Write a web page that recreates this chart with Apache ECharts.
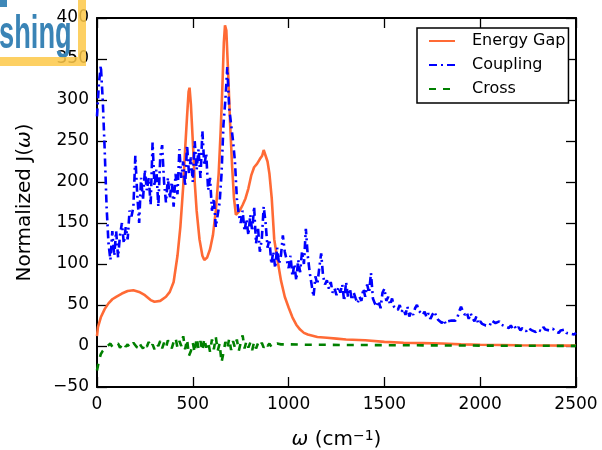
<!DOCTYPE html>
<html>
<head>
<meta charset="utf-8">
<script src="https://cdn.jsdelivr.net/npm/echarts@6/dist/echarts.min.js"></script>
<style>html,body{margin:0;padding:0;background:#fff}#c{width:602px;height:450px}</style>
</head>
<body>
<div id="c"></div>
<script>
// ---- data ----
const xTicks = [0, 500, 1000, 1500, 2000, 2500];
const yTicks = [-50, 0, 50, 100, 150, 200, 250, 300, 350, 400];
const seriesNames = ['Energy Gap', 'Coupling', 'Cross'];

const gapOmega = [0, 5, 20, 40, 60, 80, 100, 130, 160, 190, 220, 250, 280, 300, 330, 360, 380, 400, 420, 435, 450, 460, 470, 478, 483, 490, 500, 510, 520, 535, 550, 560, 575, 590, 605, 620, 635, 645, 655, 662, 668, 675, 685, 695, 705, 715, 725, 735, 745, 760, 775, 790, 805, 820, 835, 850, 862, 870, 880, 890, 900, 912, 925, 940, 960, 980, 1000, 1020, 1040, 1060, 1080, 1100, 1150, 1200, 1250, 1300, 1400, 1500, 1600, 1700, 1800, 1900, 2000, 2200, 2500];
const gapValues = [12, 23, 35, 45, 52, 57, 60, 64, 67, 68, 66, 62, 56, 54, 55, 60, 66, 78, 110, 145, 195, 240, 280, 310, 315, 295, 250, 200, 165, 130, 110, 105, 108, 118, 135, 165, 210, 260, 320, 370, 391, 385, 330, 270, 220, 180, 160, 158, 165, 172, 180, 192, 208, 218, 222, 228, 232, 239, 232, 225, 210, 180, 130, 108, 80, 60, 47, 35, 26, 20, 16, 14, 11, 10, 9, 8, 7, 5, 4, 3.5, 3, 2, 1.5, 1, 0.5];

// Coupling sampled every 10 cm^-1 from 0 to 2500
const couplingStart = 0, couplingStep = 10;
const couplingValues = [
  280, 320, 342, 300, 240, 170, 125, 105, 140, 110,
  140, 108, 135, 150, 125, 145, 130, 165, 158, 170,
  232, 185, 150, 205, 178, 215, 190, 205, 172, 248,
  195, 215, 170, 230, 245, 200, 175, 205, 180, 200,
  170, 210, 185, 240, 205, 225, 195, 245, 210, 230,
  200, 250, 215, 240, 205, 262, 220, 235, 190, 205,
  165, 180, 145, 160, 175, 210, 270, 300, 340, 290,
  270, 250, 225, 180, 160, 150, 165, 140, 155, 135,
  160, 140, 170, 125, 145, 115, 130, 170, 150, 120,
  130, 100, 115, 95, 120, 100, 110, 135, 115, 105,
  95, 110, 85, 100, 80, 105, 90, 115, 100, 143,
  110, 90, 75, 60, 85, 75, 95, 113, 85, 75,
  80, 70, 78, 65, 70, 62, 72, 65, 75, 55,
  78, 60, 70, 56, 65, 58, 52, 60, 55, 70,
  60, 75, 65, 89, 58, 52, 48, 55, 46, 65,
  70, 55, 60, 50, 58, 48, 50, 44, 50, 42,
  45, 38, 48, 36, 42, 38, 46, 50, 43, 45,
  38, 42, 35, 40, 33, 38, 42, 37, 32, 34,
  28, 32, 27, 30, 28, 31, 29, 31, 34, 42,
  48, 42, 38, 41, 33, 40, 34, 30, 36, 27,
  30, 27, 29, 25, 27, 25, 31, 33, 28, 27,
  30, 26, 28, 24, 26, 22, 25, 21, 24, 20,
  23, 19, 22, 20, 18, 22, 23, 19, 21, 17,
  20, 22, 18, 23, 20, 22, 19, 17, 21, 18,
  20, 16, 19, 17, 20, 16, 18, 15, 17, 14, 16
];

// Cross: every 10 cm^-1 from 0 to 990, then every 100 from 1000 to 2500
const crossFineStart = 0, crossFineStep = 10;
const crossFineValues = [
  -30, -18, -10, -6, -4, -1, 1, 3, -1, 2,
  0, 3, -2, 1, 4, -1, 2, -2, 1, 4,
  1, -2, 4, 0, -3, 3, -1, 5, -2, 2,
  -4, 3, 0, 6, -3, 4, -2, 7, 1, -3,
  5, 10, -2, 6, 0, 12, -4, 8, -12, -6,
  4, -8, 10, -3, 6, -6, 9, -2, 5, -7,
  8, -4, 11, -6, 3, -20, -8, 5, -3, 9,
  -5, 6, -2, 8, -6, 4, 13, -3, 6, -2,
  4, -5, 5, -3, 3, -1, 4, -2, 3, 0,
  3, -1, 2, 0, 3, 1, 2, 0, 2, 1
];
const crossTailOmega = [1000, 1100, 1200, 1300, 1400, 1500, 1600, 1700, 1800, 1900, 2000, 2100, 2200, 2300, 2400, 2500];
const crossTailValues = [2, 1.5, 1.5, 1.2, 1.2, 1, 1, 0.8, 0.7, 0.6, 0.5, 0.4, 0.3, 0.3, 0.2, 0.2];

// ---- build pairs ----
const gapData = gapOmega.map((w, i) => [w, gapValues[i]]);
const couplingData = couplingValues.map((v, i) => [couplingStart + i * couplingStep, v]);
const crossData = crossFineValues.map((v, i) => [crossFineStart + i * crossFineStep, v])
  .concat(crossTailOmega.map((w, i) => [w, crossTailValues[i]]));

const FONT = 'DejaVu Sans';
const axisLine = { show: true, onZero: false, lineStyle: { color: '#000', width: 2 } };
const axisTick = { show: true, inside: true, length: 10, lineStyle: { color: '#000', width: 1.3 } };
const fmt = v => String(v).replace('-', '\u2212');

const chart = echarts.init(document.getElementById('c'), null, { renderer: 'canvas' });
chart.setOption({
  animation: false,
  backgroundColor: '#fff',
  grid: { left: 97, right: 26, top: 18, bottom: 63, containLabel: false, outerBoundsMode: 'none' },
  legend: {
    orient: 'vertical',
    left: 417, top: 28,
    padding: [5, 3, 6, 11],
    itemWidth: 26, itemHeight: 14, itemGap: 8,
    backgroundColor: '#fff', borderColor: '#000', borderWidth: 1.5,
    itemStyle: { opacity: 0 },
    textStyle: { fontFamily: FONT, fontSize: 16, color: '#000', padding: [0, 0, 0, 12] },
    data: seriesNames
  },
  xAxis: [
    {
      type: 'value', min: xTicks[0], max: xTicks[xTicks.length - 1], interval: 500, position: 'bottom',
      axisLine, axisTick, splitLine: { show: false },
      axisLabel: { color: '#000', fontFamily: FONT, fontSize: 17, margin: 9, formatter: fmt },
      name: '{it|ω} (cm{sup|−1})', nameLocation: 'middle', nameGap: 42,
      nameTextStyle: {
        fontFamily: FONT, fontSize: 20, color: '#000',
        rich: {
          it: { fontFamily: FONT, fontSize: 20, fontStyle: 'italic', color: '#000' },
          sup: { fontFamily: FONT, fontSize: 14, color: '#000', verticalAlign: 'top', padding: [0, 0, 8, 0] }
        }
      }
    },
    {
      type: 'value', min: xTicks[0], max: xTicks[xTicks.length - 1], interval: 500, position: 'top',
      axisLine, axisTick, splitLine: { show: false }, axisLabel: { show: false }
    }
  ],
  yAxis: [
    {
      type: 'value', min: yTicks[0], max: yTicks[yTicks.length - 1], interval: 50, position: 'left',
      axisLine, axisTick, splitLine: { show: false },
      axisLabel: { color: '#000', fontFamily: FONT, fontSize: 17, margin: 8, formatter: fmt },
      name: 'Normalized J({it|ω})', nameLocation: 'middle', nameGap: 62,
      nameTextStyle: {
        fontFamily: FONT, fontSize: 20, color: '#000',
        rich: { it: { fontFamily: FONT, fontSize: 20, fontStyle: 'italic', color: '#000' } }
      }
    },
    {
      type: 'value', min: yTicks[0], max: yTicks[yTicks.length - 1], interval: 50, position: 'right',
      axisLine, axisTick, splitLine: { show: false }, axisLabel: { show: false }
    }
  ],
  series: [
    {
      name: seriesNames[0], type: 'line', data: gapData, symbol: 'none', showSymbol: false,
      lineStyle: { color: '#ff6a35', width: 2.6 }, itemStyle: { color: '#ff6a35' }, z: 2
    },
    {
      name: seriesNames[1], type: 'line', data: couplingData, symbol: 'none', showSymbol: false,
      lineStyle: { color: '#0000ff', width: 2.6, type: [8, 4, 2, 4] }, itemStyle: { color: '#0000ff' }, z: 3
    },
    {
      name: seriesNames[2], type: 'line', data: crossData, symbol: 'none', showSymbol: false,
      lineStyle: { color: '#008000', width: 2.6, type: [7, 7] }, itemStyle: { color: '#008000' }, z: 4
    }
  ],
  graphic: [
    { type: 'rect', z: 100, shape: { x: 0, y: 0, width: 7, height: 7 }, style: { fill: '#3f88b8' } },
    { type: 'text', z: 100, x: -1, y: 12, scaleX: 0.58,
      style: { text: 'shing', font: 'bold 47px "Liberation Sans"', fill: '#3a84b6', verticalAlign: 'top' } },
    { type: 'rect', z: 100, shape: { x: 78, y: 0, width: 8, height: 66 }, style: { fill: 'rgba(253,200,72,0.85)' } },
    { type: 'rect', z: 100, shape: { x: 0, y: 57, width: 78, height: 9 }, style: { fill: 'rgba(253,200,72,0.85)' } }
  ]
});
</script>
</body>
</html>
